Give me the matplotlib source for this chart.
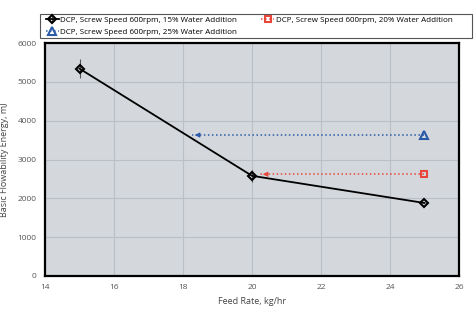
import matplotlib.pyplot as plt
from matplotlib.patches import Rectangle

# data
feed_15 = [15, 20, 25]
bfe_15 = [5340, 2580, 1880]
err_15 = [250, 150, 0]

feed_20 = [25, 20.23]
bfe_20 = [2620, 2620]

feed_25 = [25, 18.26]
bfe_25 = [3630, 3630]

labels = ["DCP, Screw Speed 600rpm, 15% Water Addition",
          "DCP, Screw Speed 600rpm, 20% Water Addition",
          "DCP, Screw Speed 600rpm, 25% Water Addition"]

plt.rcParams['font.family'] = ['Open Sans', 'DejaVu Sans']

fig = plt.figure(figsize=(4.75, 3.14), dpi=100)
ax = fig.add_axes([45 / 475, 38 / 314, 414 / 475, 233 / 314])
ax.set_facecolor('#d4d8dc')

# black series with error bars
h1 = ax.errorbar(feed_15, bfe_15, yerr=err_15, color='black', lw=1.3,
                 marker='D', ms=4.5, mfc='none', mec='black', mew=1.5,
                 ecolor='#555555', elinewidth=0.8, capsize=0, zorder=4)

# red and blue dotted arrows
red = '#e8463a'
blue = '#2a5aa8'
h2, = ax.plot(feed_20, bfe_20, color=red, ls=':', lw=1.1, marker='s', ms=4.5,
              mfc='none', mec=red, mew=1.5, markevery=[0], zorder=3)
h3, = ax.plot(feed_25, bfe_25, color=blue, ls=':', lw=1.1, marker='^', ms=5.5,
              mfc='none', mec=blue, mew=1.5, markevery=[0], zorder=3)
ax.annotate('', xy=(feed_20[1], bfe_20[1]), xytext=(feed_20[1] + 0.3, bfe_20[1]),
            arrowprops=dict(arrowstyle='-|>', color=red, lw=0.8,
                            mutation_scale=7), zorder=3)
ax.annotate('', xy=(feed_25[1], bfe_25[1]), xytext=(feed_25[1] + 0.3, bfe_25[1]),
            arrowprops=dict(arrowstyle='-|>', color=blue, lw=0.8,
                            mutation_scale=7), zorder=3)

ax.set_xlim(14, 26)
ax.set_ylim(0, 6000)
ax.set_xticks(range(14, 27, 2))
ax.set_yticks(range(0, 6001, 1000))
ax.grid(True, color='#b9bfc6', lw=0.8)
ax.set_axisbelow(True)
for s in ax.spines.values():
    s.set_linewidth(1.6)
ax.tick_params(length=0, labelsize=6, labelcolor='#555555', pad=6)
ax.set_xlabel('Feed Rate, kg/hr', fontsize=6.5, color='#444444', labelpad=4)
ax.set_ylabel('Basic Flowability Energy, mJ', fontsize=6.5, color='#444444',
              labelpad=6)

# legend box drawn by hand, legend itself without frame
fig.patches.append(Rectangle((40 / 475, 1 - 38 / 314), 432 / 475, 24 / 314,
                             transform=fig.transFigure, fill=False,
                             edgecolor='#555555', lw=0.8))
leg = fig.legend([h1, h3, h2], [labels[0], labels[2], labels[1]], ncol=2,
                 loc='upper left', bbox_to_anchor=(44 / 475, 1 - 15 / 314),
                 fontsize=5.8, frameon=False,
                 borderpad=0.2, handlelength=1.6, handletextpad=0.2,
                 labelspacing=0.45, columnspacing=3.0, borderaxespad=0)

fig.savefig('out.png', dpi=100)
